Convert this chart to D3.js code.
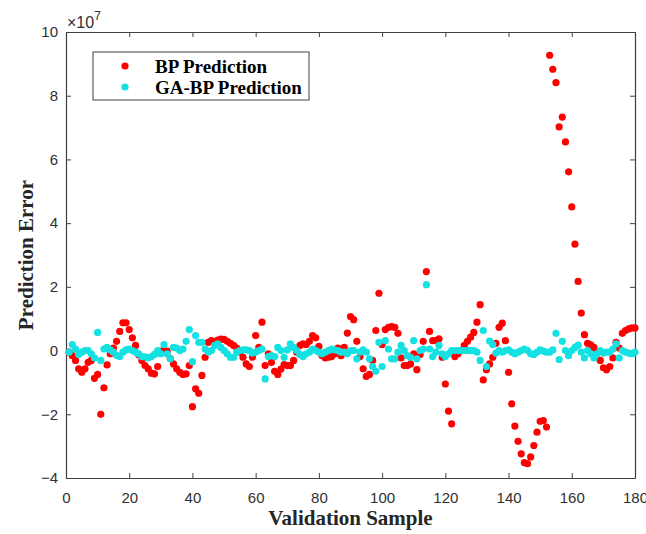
<!DOCTYPE html>
<html lang="en">
<head>
<meta charset="utf-8">
<title>Prediction Error</title>
<script type="text/javascript" src="https://cdn.jsdelivr.net/npm/d3@7"></script>
<style>
  body { margin: 0; background: #fff; }
  .tick text { font-family: "Liberation Sans", Arial, sans-serif; font-size: 15px; fill: #303030; }
  .tick line { stroke: #404040; }
  .domain { stroke: #404040; }
</style>
</head>
<body>
<div id="bod"></div>
<script type="text/javascript">
// errors in units of 1e7, sample 1..180
const bpErr = [
  -0.05, -0.16, -0.31, -0.57, -0.68, -0.57, -0.37, -0.31, -0.87, -0.75,
  -2.0, -1.17, -0.45, -0.1, 0.08, 0.29, 0.6, 0.87, 0.87, 0.66,
  0.4, 0.16, -0.13, -0.31, -0.47, -0.57, -0.71, -0.73, -0.5, -0.02,
  0.0, -0.02, -0.25, -0.42, -0.57, -0.68, -0.75, -0.73, -0.47, -1.76,
  -1.2, -1.34, -0.78, -0.21, 0.26, 0.31, 0.28, 0.33, 0.36, 0.35,
  0.29, 0.23, 0.16, 0.08, -0.05, -0.21, -0.42, -0.5, -0.21, 0.47,
  0.1, 0.89, -0.47, -0.1, -0.37, -0.65, -0.75, -0.58, -0.44, -0.47,
  -0.47, -0.31, -0.05, 0.16, 0.21, 0.19, 0.29, 0.47, 0.4, 0.13,
  -0.16, -0.23, -0.21, -0.19, -0.1, 0.08, -0.16, 0.1, 0.55, 1.07,
  0.97, 0.29, -0.19, -0.57, -0.81, -0.75, -0.31, 0.63, 1.8, 0.19,
  0.66, 0.73, 0.75, 0.73, 0.54, -0.23, -0.47, -0.47, -0.42, -0.1,
  -0.6, -0.12, 0.29, 2.48, 0.6, 0.31, 0.31, 0.37, -0.21, -1.05,
  -1.9, -2.3, -0.19, -0.1, 0.0, 0.16, 0.29, 0.42, 0.57, 0.89,
  1.44, -0.92, -0.6, -0.42, -0.21, 0.23, 0.73, 0.86, 0.31, -0.68,
  -1.67, -2.37, -2.85, -3.24, -3.52, -3.55, -3.34, -2.98, -2.56, -2.22,
  -2.2, -2.4, 9.27, 8.83, 8.41, 7.02, 7.33, 6.55, 5.61, 4.51,
  3.34, 2.17, 1.18, 0.5, 0.23, 0.18, 0.1, -0.05, -0.31, -0.54,
  -0.6, -0.5, -0.23, 0.26, 0.08, 0.54, 0.63, 0.68, 0.71, 0.71
];
const gabpErr = [
  -0.05, 0.19, 0.05, -0.12, -0.05, 0, 0, -0.1, -0.23, 0.57,
  -0.31, 0.05, 0.1, 0.02, -0.05, -0.15, -0.19, -0.05, 0.02, 0.05,
  0, -0.05, -0.1, -0.19, -0.2, -0.23, -0.19, -0.12, 0, -0.1,
  0.19, -0.1, -0.26, 0.1, 0.08, 0, 0.05, 0.29, 0.66, -0.35,
  0.47, 0.26, 0.26, 0.05, -0.05, 0, 0.16, 0.21, 0.1, 0,
  -0.1, -0.21, -0.21, -0.05, 0, 0.02, 0.02, 0, -0.08, -0.05,
  0, 0.05, -0.89, -0.19, -0.16, -0.19, 0.1, 0, -0.21, 0.02,
  0.21, 0.1, 0, -0.12, -0.19, -0.1, -0.05, 0.05, 0, -0.05,
  -0.1, -0.05, 0, 0.05, 0.02, 0, -0.05, -0.05, -0.1, 0,
  0, -0.26, -0.05, 0.02, -0.05, -0.26, -0.5, -0.65, 0.26, -0.5,
  0.31, 0.05, -0.26, -0.26, -0.05, 0.16, 0, -0.16, -0.21, 0.31,
  -0.26, 0, 0.05, 2.07, 0.05, -0.19, -0.05, 0.16, -0.1, -0.19,
  -0.1, 0, 0, 0, 0, 0, 0, 0, 0, -0.05,
  -0.31, 0.63, -0.5, 0.3, 0.19, -0.08, 0, -0.05, 0, 0.02,
  -0.05, -0.1, -0.05, 0, 0.05, 0, -0.1, -0.12, -0.05, 0.02,
  -0.02, -0.05, -0.05, 0.02, 0.54, -0.28, 0.29, 0, -0.16, 0,
  0.1, 0.17, -0.05, -0.23, 0, -0.1, -0.23, -0.1, 0, -0.08,
  -0.05, -0.05, 0.05, 0.21, -0.23, 0, -0.05, -0.08, -0.1, -0.05
];
const xTicks = [0, 20, 40, 60, 80, 100, 120, 140, 160, 180];
const yTicks = [-4, -2, 0, 2, 4, 6, 8, 10];
const seriesNames = ["BP Prediction", "GA-BP Prediction"];
const seriesColors = ["#ff0000", "#14e1e1"];

const W = 646, H = 534;
const margin = {top: 32, right: 11, bottom: 56, left: 66};
const w = W - margin.left - margin.right;
const h = H - margin.top - margin.bottom;

const xScale = d3.scaleLinear().domain([0, 180]).range([0, w]);
const yScale = d3.scaleLinear().domain([-4, 10]).range([h, 0]);

const svg = d3.select("#bod").append("svg")
  .attr("width", W)
  .attr("height", H);

const g = svg.append("g")
  .attr("transform", "translate(" + margin.left + "," + margin.top + ")");

// axes, ticks point inward like matlab
g.append("g")
  .attr("transform", "translate(0," + h + ")")
  .call(d3.axisBottom(xScale).tickValues(xTicks).tickSizeInner(-5).tickSizeOuter(0).tickPadding(14));
g.append("g")
  .call(d3.axisTop(xScale).tickValues(xTicks).tickSizeInner(-5).tickSizeOuter(0).tickFormat(""));
g.append("g")
  .call(d3.axisLeft(yScale).tickValues(yTicks).tickSizeInner(-5).tickSizeOuter(0).tickPadding(8));
g.append("g")
  .attr("transform", "translate(" + w + ",0)")
  .call(d3.axisRight(yScale).tickValues(yTicks).tickSizeInner(-5).tickSizeOuter(0).tickFormat(""));

g.selectAll(".domain").attr("stroke-width", 1.2);

// exponent label
const expo = svg.append("text")
  .attr("x", margin.left + 1)
  .attr("y", 28)
  .attr("font-family", "Liberation Sans, Arial, sans-serif")
  .attr("font-size", 16)
  .attr("fill", "#303030");
expo.append("tspan").text("\u00d710");
expo.append("tspan").attr("dy", -8).attr("font-size", 12).text("7");

// points
const seriesData = [bpErr, gabpErr];
seriesData.forEach((arr, k) => {
  g.append("g").selectAll("circle")
    .data(arr)
    .join("circle")
      .attr("cx", (d, i) => xScale(i + 1))
      .attr("cy", d => yScale(d))
      .attr("r", 3.6)
      .attr("fill", seriesColors[k]);
});

// axis titles
svg.append("text")
  .attr("x", margin.left + w / 2)
  .attr("y", 525)
  .attr("text-anchor", "middle")
  .attr("font-family", "Liberation Serif, Times New Roman, serif")
  .attr("font-weight", "bold")
  .attr("font-size", 21)
  .attr("fill", "#262626")
  .text("Validation Sample");

svg.append("text")
  .attr("transform", "translate(33," + (margin.top + h / 2) + ") rotate(-90)")
  .attr("text-anchor", "middle")
  .attr("font-family", "Liberation Serif, Times New Roman, serif")
  .attr("font-weight", "bold")
  .attr("font-size", 21)
  .attr("fill", "#262626")
  .text("Prediction Error");

// legend
const leg = svg.append("g").attr("transform", "translate(93,52)");
leg.append("rect")
  .attr("width", 216)
  .attr("height", 48)
  .attr("fill", "#fff")
  .attr("stroke", "#404040")
  .attr("stroke-width", 1);
seriesNames.forEach((name, k) => {
  leg.append("circle")
    .attr("cx", 32)
    .attr("cy", 14 + k * 21)
    .attr("r", 3.6)
    .attr("fill", seriesColors[k]);
  leg.append("text")
    .attr("x", 62)
    .attr("y", 14 + k * 21)
    .attr("dy", "0.35em")
    .attr("font-family", "Liberation Serif, Times New Roman, serif")
    .attr("font-weight", "bold")
    .attr("font-size", 19)
    .attr("fill", "#000")
    .text(name);
});
</script>
</body>
</html>
